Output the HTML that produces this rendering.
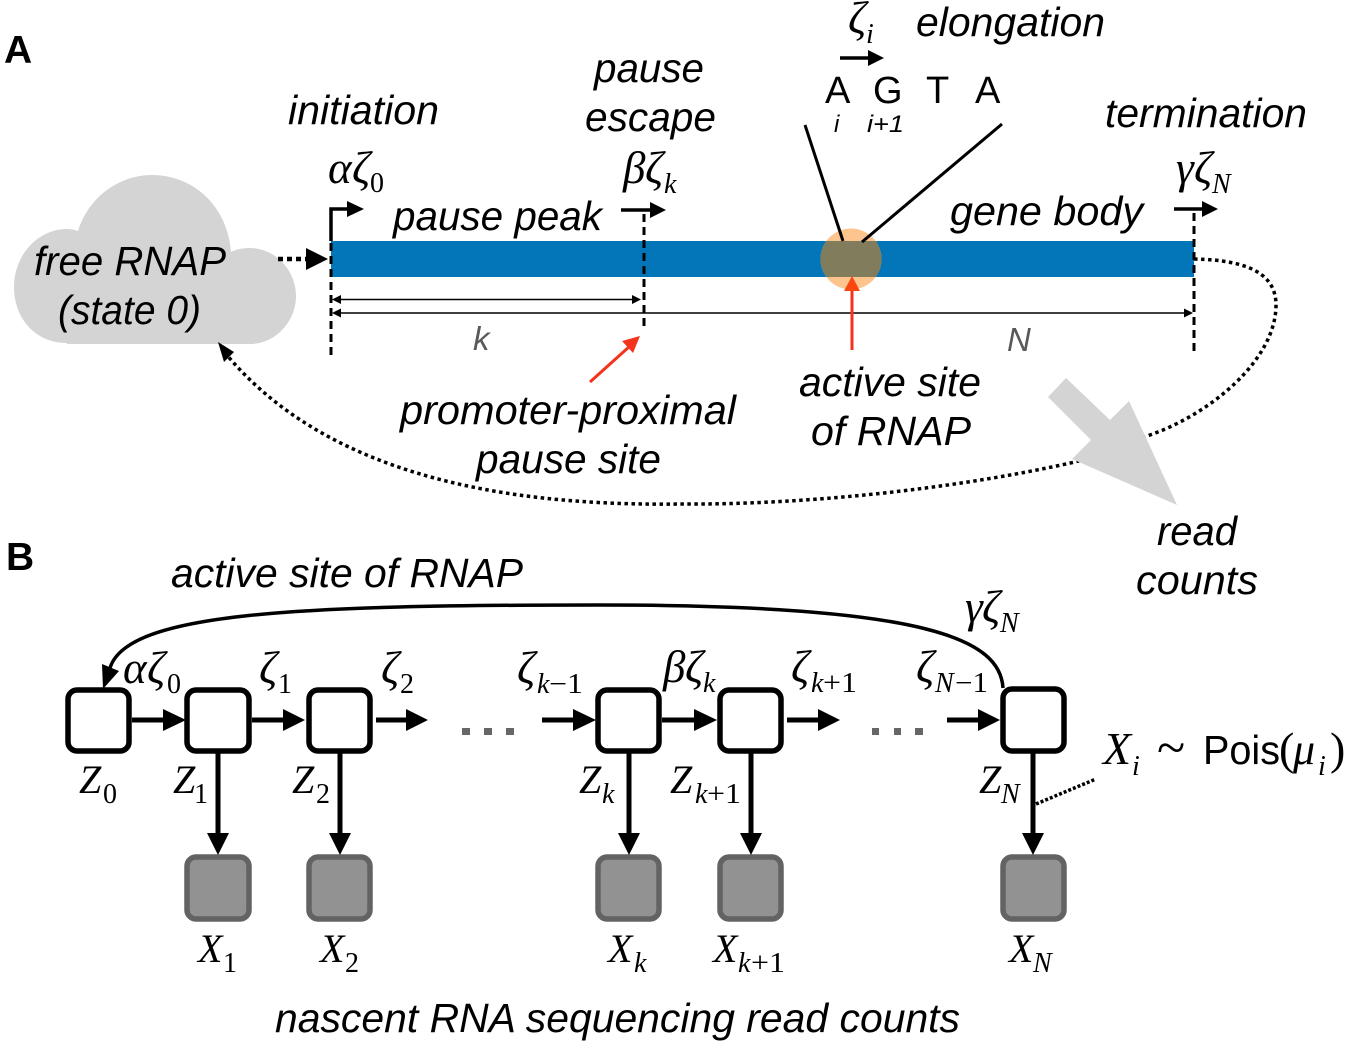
<!DOCTYPE html>
<html><head><meta charset="utf-8">
<style>
html,body{margin:0;padding:0;background:#fff}
svg{display:block}
.s{font-family:"Liberation Sans",sans-serif;font-style:italic;font-size:41px;fill:#000}
.m{font-family:"Liberation Serif",serif;font-style:italic;font-size:40px;fill:#000}
.g{font-family:"Liberation Serif",serif;font-style:italic;font-size:45px;fill:#000}
.u{font-family:"Liberation Serif",serif;font-style:italic;font-size:28px;fill:#000}
.n{font-family:"Liberation Serif",serif;font-size:28px;fill:#000}
.b{font-family:"Liberation Sans",sans-serif;font-weight:bold;font-size:39px;fill:#000}
.r{font-family:"Liberation Sans",sans-serif;font-size:38px;fill:#000}
.z{fill:#fff;stroke:#000;stroke-width:5.5}
.x{fill:#929292;stroke:#636363;stroke-width:5.5}
</style></head><body>
<svg width="1352" height="1046" viewBox="0 0 1352 1046" xmlns="http://www.w3.org/2000/svg">
<rect width="1352" height="1046" fill="#fff"/>
<defs><clipPath id="cc"><circle cx="851" cy="259" r="30.5"/></clipPath></defs>
<!-- Panel A -->
<text class="b" x="4" y="63">A</text>
<path d="M67 343 C35 343 14 318 14 287 C14 255 38 229 67 229 C71 229 75 230 78 231 C88 198 118 175 152 175 C195 175 228 208 231 252 C237 249 243 248 250 248 C275 248 296 270 296 296 C296 322 275 344 250 344 L67 344 Z" fill="#d4d4d4"/>
<rect x="331" y="241" width="863" height="36" fill="#0376b9"/>
<circle cx="851" cy="259" r="30.5" fill="#fdc48d"/>
<rect x="815" y="241" width="72" height="36" fill="#807c5c" clip-path="url(#cc)"/>
<line x1="805" y1="125" x2="843" y2="241" stroke="#000" stroke-width="3"/>
<line x1="1002" y1="124" x2="862" y2="242" stroke="#000" stroke-width="3"/>
<g stroke="#000" stroke-width="3" stroke-dasharray="8 5" fill="none">
<line x1="331" y1="243" x2="331" y2="356"/>
<line x1="644" y1="214" x2="644" y2="331"/>
<line x1="1194" y1="213" x2="1194" y2="356"/>
</g>
<path d="M331 241 V209 H350" fill="none" stroke="#000" stroke-width="3.5"/>
<polygon points="347,201 364,209 347,217" fill="#000"/>
<line x1="621" y1="210" x2="652" y2="210" stroke="#000" stroke-width="3.5"/>
<polygon points="650,202 666,210 650,218" fill="#000"/>
<line x1="1174" y1="209" x2="1204" y2="209" stroke="#000" stroke-width="3.5"/>
<polygon points="1202,201 1218,209 1202,217" fill="#000"/>
<line x1="840" y1="58" x2="870" y2="58" stroke="#000" stroke-width="3.5"/>
<polygon points="868,50 884,58 868,66" fill="#000"/>
<line x1="278" y1="259" x2="306" y2="259" stroke="#000" stroke-width="4.5" stroke-dasharray="5 4"/>
<polygon points="306,248 328,259 306,270" fill="#000"/>
<g stroke="#000" stroke-width="1.5">
<line x1="335" y1="299.500" x2="637" y2="299.500"/>
<line x1="335" y1="313" x2="1190" y2="313"/>
</g>
<g fill="#000">
<polygon points="332,299.500 341,295 341,304"/>
<polygon points="641,299.500 632,295 632,304"/>
<polygon points="332,313 341,308.500 341,317.500"/>
<polygon points="1193,313 1184,308.500 1184,317.500"/>
</g>
<line x1="852" y1="350" x2="852" y2="288" stroke="#f5321c" stroke-width="3"/>
<polygon points="852,276 860,291 844,291" fill="#f9480f"/>
<line x1="590" y1="382" x2="630" y2="346" stroke="#f5321c" stroke-width="3"/>
<polygon points="640,336 633,353 622,341" fill="#f5321c"/>
<path d="M1194 259 C1250 260 1276 275 1276 305 C1276 360 1210 415 1147 436 C1120 446 1100 455 1075 462 C950 490 800 505 680 504 C530 506 335 485 226 354" fill="none" stroke="#000" stroke-width="3.5" stroke-dasharray="3.500 3.500"/>
<polygon points="218,342 234,352 224,362" fill="#000"/>
<polygon points="1066,378 1048,397 1091,440 1072,459 1177,505 1129,401 1110,420" fill="#d4d4d4"/>
<text class="s" x="288" y="124" textLength="151" lengthAdjust="spacingAndGlyphs">initiation</text>
<text class="s" x="594" y="82" textLength="110" lengthAdjust="spacingAndGlyphs">pause</text>
<text class="s" x="585" y="131" textLength="131" lengthAdjust="spacingAndGlyphs">escape</text>
<text class="s" x="916" y="36" textLength="189" lengthAdjust="spacingAndGlyphs">elongation</text>
<text class="s" x="1105" y="127" textLength="202" lengthAdjust="spacingAndGlyphs">termination</text>
<text class="s" x="393" y="230" textLength="209" lengthAdjust="spacingAndGlyphs">pause peak</text>
<text class="s" x="950" y="225" textLength="193" lengthAdjust="spacingAndGlyphs">gene body</text>
<text class="s" x="34" y="275" textLength="192" lengthAdjust="spacingAndGlyphs">free RNAP</text>
<text class="s" x="58" y="324" textLength="143" lengthAdjust="spacingAndGlyphs">(state 0)</text>
<text class="s" x="473" y="350" style="fill:#595959;font-size:33px">k</text>
<text class="s" x="1007" y="351" style="fill:#595959;font-size:33px">N</text>
<text class="s" x="400" y="424" textLength="336" lengthAdjust="spacingAndGlyphs">promoter-proximal</text>
<text class="s" x="476" y="473" textLength="185" lengthAdjust="spacingAndGlyphs">pause site</text>
<text class="s" x="799" y="396" textLength="182" lengthAdjust="spacingAndGlyphs">active site</text>
<text class="s" x="811" y="445" textLength="160" lengthAdjust="spacingAndGlyphs">of RNAP</text>
<text class="s" x="1157" y="545" textLength="80" lengthAdjust="spacingAndGlyphs">read</text>
<text class="s" x="1136" y="594" textLength="122" lengthAdjust="spacingAndGlyphs">counts</text>
<text class="r" x="825" y="103">A</text>
<text class="r" x="873" y="103">G</text>
<text class="r" x="926" y="103">T</text>
<text class="r" x="975" y="103">A</text>
<text class="s" x="834" y="132" style="font-size:24px">i</text>
<text class="s" x="867" y="132" textLength="37" lengthAdjust="spacingAndGlyphs" style="font-size:24px">i+1</text>
<text class="g" x="328" y="183">α</text><text class="g" x="352" y="183">ζ</text><text class="n" x="370" y="192">0</text>
<text class="g" x="623" y="183">β</text><text class="g" x="645" y="183">ζ</text><text class="u" x="664" y="193">k</text>
<text class="g" x="1176" y="183">γ</text><text class="g" x="1194" y="183">ζ</text><text class="u" x="1212" y="193">N</text>
<text class="g" x="848" y="33">ζ</text><text class="u" x="866" y="43">i</text>
<!-- Panel B -->
<text class="b" x="6" y="570">B</text>
<text class="s" x="171" y="587" textLength="352" lengthAdjust="spacingAndGlyphs">active site of RNAP</text>
<text class="s" x="275" y="1032" textLength="685" lengthAdjust="spacingAndGlyphs">nascent RNA sequencing read counts</text>
<path d="M1003 688 C1000 640 930 605 600 605 C300 605 127 612 110 668" fill="none" stroke="#000" stroke-width="3.5"/>
<polygon points="103,689 102,664 119,671" fill="#000"/>
<rect class="z" x="68" y="690" width="61" height="61" rx="9"/>
<rect class="z" x="187" y="690" width="62" height="61" rx="9"/>
<rect class="z" x="309" y="690" width="61" height="61" rx="9"/>
<rect class="z" x="598" y="690" width="61" height="61" rx="9"/>
<rect class="z" x="720" y="690" width="61" height="61" rx="9"/>
<rect class="z" x="1003" y="689" width="61" height="62" rx="9"/>
<rect class="x" x="187" y="857" width="62" height="62" rx="9"/>
<rect class="x" x="309" y="857" width="61" height="62" rx="9"/>
<rect class="x" x="598" y="857" width="61" height="62" rx="9"/>
<rect class="x" x="720" y="857" width="61" height="62" rx="9"/>
<rect class="x" x="1003" y="857" width="61" height="62" rx="9"/>
<g stroke="#000" stroke-width="5">
<line x1="132" y1="720" x2="165" y2="720"/>
<line x1="252" y1="720" x2="285" y2="720"/>
<line x1="376" y1="720" x2="408" y2="720"/>
<line x1="542" y1="720" x2="575" y2="720"/>
<line x1="662" y1="720" x2="696" y2="720"/>
<line x1="787" y1="720" x2="820" y2="720"/>
<line x1="947" y1="720" x2="980" y2="720"/>
<line x1="218" y1="753" x2="218" y2="835"/>
<line x1="340" y1="753" x2="340" y2="835"/>
<line x1="629" y1="753" x2="629" y2="835"/>
<line x1="751" y1="753" x2="751" y2="835"/>
<line x1="1033" y1="753" x2="1033" y2="835"/>
</g>
<g fill="#000">
<polygon points="163,709 186,720 163,731"/>
<polygon points="283,709 305,720 283,731"/>
<polygon points="406,709 428,720 406,731"/>
<polygon points="573,709 596,720 573,731"/>
<polygon points="694,709 717,720 694,731"/>
<polygon points="818,709 840,720 818,731"/>
<polygon points="978,709 1000,720 978,731"/>
<polygon points="207,833 229,833 218,855"/>
<polygon points="329,833 351,833 340,855"/>
<polygon points="618,833 640,833 629,855"/>
<polygon points="740,833 762,833 751,855"/>
<polygon points="1022,833 1044,833 1033,855"/>
</g>
<g fill="#666">
<rect x="462" y="728" width="8" height="7"/><rect x="484" y="728" width="8" height="7"/><rect x="506" y="728" width="8" height="7"/>
<rect x="872" y="728" width="7" height="7"/><rect x="894" y="728" width="7" height="7"/><rect x="915" y="728" width="8" height="7"/>
</g>
<line x1="1036" y1="804" x2="1096" y2="779" stroke="#000" stroke-width="3.5" stroke-dasharray="3 2"/>
<!-- labels -->
<text class="g" x="123" y="683">α</text><text class="g" x="147" y="683">ζ</text><text class="n" x="167" y="693">0</text>
<text class="g" x="259" y="683">ζ</text><text class="n" x="278" y="693">1</text>
<text class="g" x="381" y="683">ζ</text><text class="n" x="400" y="693">2</text>
<text class="g" x="517" y="683">ζ</text><text class="u" x="537" y="693">k</text><text class="n" x="549" y="693" textLength="34" lengthAdjust="spacingAndGlyphs">−1</text>
<text class="g" x="663" y="682">β</text><text class="g" x="685" y="682">ζ</text><text class="u" x="703" y="692">k</text>
<text class="g" x="791" y="682">ζ</text><text class="u" x="811" y="692">k</text><text class="n" x="823" y="692" textLength="34" lengthAdjust="spacingAndGlyphs">+1</text>
<text class="g" x="916" y="682">ζ</text><text class="u" x="935" y="692">N</text><text class="n" x="955" y="692" textLength="33" lengthAdjust="spacingAndGlyphs">−1</text>
<text class="g" x="965" y="622">γ</text><text class="g" x="982" y="622">ζ</text><text class="u" x="1000" y="632">N</text>
<text class="m" x="79" y="793">Z</text><text class="n" x="103" y="803">0</text>
<text class="m" x="173" y="793">Z</text><text class="n" x="194" y="803">1</text>
<text class="m" x="292" y="793">Z</text><text class="n" x="316" y="803">2</text>
<text class="m" x="579" y="793">Z</text><text class="u" x="602" y="803">k</text>
<text class="m" x="670" y="793">Z</text><text class="u" x="695" y="803">k</text><text class="n" x="707" y="803" textLength="34" lengthAdjust="spacingAndGlyphs">+1</text>
<text class="m" x="979" y="793">Z</text><text class="u" x="1001" y="803">N</text>
<text class="m" x="198" y="962">X</text><text class="n" x="223" y="972">1</text>
<text class="m" x="320" y="962">X</text><text class="n" x="345" y="972">2</text>
<text class="m" x="608" y="962">X</text><text class="u" x="634" y="972">k</text>
<text class="m" x="713" y="962">X</text><text class="u" x="738" y="972">k</text><text class="n" x="751" y="972" textLength="34" lengthAdjust="spacingAndGlyphs">+1</text>
<text class="m" x="1009" y="962">X</text><text class="u" x="1033" y="972">N</text>
<text class="m" x="1103" y="764" style="font-size:46px">X</text><text class="u" x="1132" y="775">i</text>
<text class="n" x="1157" y="765" style="font-size:52px">~</text>
<text class="r" x="1203" y="764" textLength="77" lengthAdjust="spacingAndGlyphs" style="font-size:41px">Pois</text>
<text class="n" x="1279" y="764" style="font-size:46px">(</text>
<text class="g" x="1293" y="764" style="font-size:44px">μ</text><text class="u" x="1318" y="775">i</text>
<text class="n" x="1330" y="764" style="font-size:46px">)</text>
</svg>
</body></html>
